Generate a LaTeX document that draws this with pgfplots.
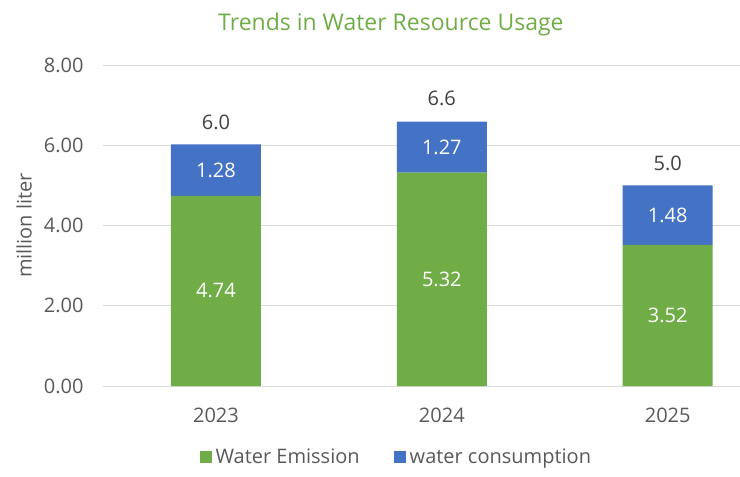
\documentclass[border=0pt]{standalone}
\usepackage{pgfplots}
\pgfplotsset{compat=1.18}
\usepackage{fontspec}
\setmainfont{Open Sans}
\definecolor{cgreen}{HTML}{70AD47}
\definecolor{cblue}{HTML}{4472C4}
\definecolor{ctext}{HTML}{595959}
\definecolor{cdark}{HTML}{404040}
\definecolor{cgrid}{HTML}{D9D9D9}
\begin{document}
\begin{tikzpicture}
\path[use as bounding box] (-103pt,-91pt) rectangle (637pt,386pt);
\pgfplotsset{
  common/.style={
    width=637pt, height=321pt, scale only axis,
    xmin=-0.5, xmax=2.32, ymin=0, ymax=8,
    xtick={0,1,2}, xticklabels={2023,2024,2025},
    ytick={0,2,4,6,8},
    /pgf/number format/assume math mode=true,
    /pgf/number format/.cd, fixed, fixed zerofill, precision=2, /pgfplots/.cd,
    tick style={draw=none},
    axis line style={draw=none},
    ticklabel style={font=\fontsize{20}{22}\selectfont, text=ctext},
    yticklabel style={xshift=-16pt},
    xticklabel style={yshift=-18pt},
  }
}
\begin{axis}[common,
  ybar stacked, bar width=90pt,
  ymajorgrids, grid style={cgrid, line width=0.8pt},
  title={Trends in Water Resource Usage},
  title style={at={(axis description cs:0.452,1.108)}, anchor=center, font=\fontsize{23}{26}\selectfont, text=cgreen},
  ylabel={million liter},
  ylabel style={at={(axis description cs:-0.124,0.5)}, anchor=center, font=\fontsize{20}{22}\selectfont, text=ctext},
  legend style={at={(axis description cs:0.462,-0.221)}, anchor=center, draw=none, fill=none,
    legend columns=2, font=\fontsize{20}{22}\selectfont, text=ctext,
    /tikz/every even column/.append style={column sep=30pt},
    nodes={inner xsep=4pt},
    legend cell align=left},
  legend image code/.code={\fill[#1] (0pt,-6pt) rectangle (12pt,6pt);},
]
\addplot[fill=cgreen, draw=none] coordinates {(0,4.74) (1,5.32) (2,3.52)};
\addplot[fill=cblue, draw=none] coordinates {(0,1.28) (1,1.27) (2,1.48)};
\legend{Water Emission, water consumption}
\end{axis}
\begin{axis}[common, hide axis]
\addplot[only marks, mark=none, nodes near coords, point meta=explicit symbolic,
  every node near coord/.style={anchor=center, text=white, font=\fontsize{20}{22}\selectfont}]
  coordinates {(0,2.37)[4.74] (1,2.66)[5.32] (2,1.76)[3.52]
               (0,5.38)[1.28] (1,5.955)[1.27] (2,4.26)[1.48]};
\addplot[only marks, mark=none, nodes near coords, point meta=explicit symbolic,
  every node near coord/.style={anchor=center, text=cdark, font=\fontsize{20}{22}\selectfont}]
  coordinates {(0,6.58)[6.0] (1,7.16)[6.6] (2,5.56)[5.0]};
\end{axis}
\end{tikzpicture}
\end{document}
